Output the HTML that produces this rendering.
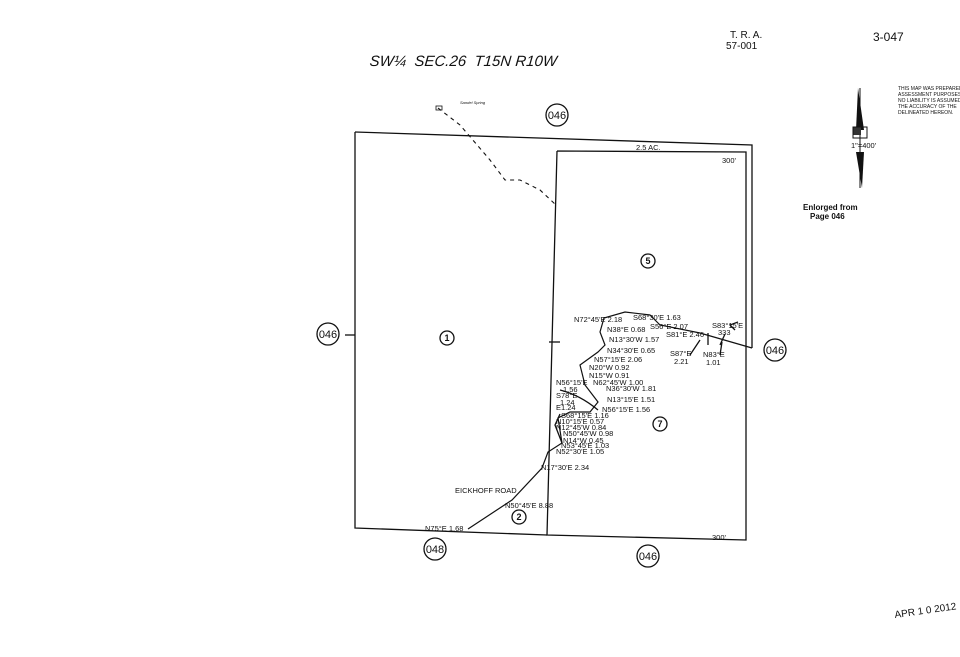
<!DOCTYPE html>
<html><head><meta charset="utf-8"><style>
html,body{margin:0;padding:0;background:#fff;}
svg{display:block;}
text{font-family:"Liberation Sans",sans-serif;fill:#111;}
.s{font-size:7.5px;}
.m{font-size:10px;}
</style></head><body>
<svg width="960" height="657" viewBox="0 0 960 657" xmlns="http://www.w3.org/2000/svg">
<rect width="960" height="657" fill="#fff"/>
<g stroke="#111" fill="none" stroke-width="1.3">
<path d="M355,132 L752,145 L752,348"/>
<path d="M355,132 L355,528 L547,535"/>
<path d="M557,151 L746,152 L746,540 L547,535 L557,151"/>
<line x1="549" y1="342" x2="560" y2="342"/>
<line x1="345" y1="335" x2="355" y2="335"/>
<path d="M468,529 L512,500 L542,468 L548,452 L562,443 L558,418 L570,412 L590,412 L598,402 L585,385 L580,365 L598,352 L605,345 L600,332 L604,318 L625,312 L650,315 L660,325 L700,333 L752,348" stroke-width="1.2"/>
<path d="M562,443 L555,425 L560,414" />
<path d="M708,333 L708,345 M725,334 L720,345 M735,330 L730,325 L738,322"/>
<path d="M690,355 L700,340 M720,355 L722,342"/>
<path d="M560,390 Q580,395 598,410"/>
<path d="M438,108 L460,125 L490,160 L505,180 L520,180 L540,190 L556,205" stroke-dasharray="4,4" stroke-width="1.1"/>
<rect x="436" y="106" width="6" height="4" stroke-width="0.8"/>
<circle cx="557" cy="115" r="11"/>
<circle cx="328" cy="334" r="11"/>
<circle cx="775" cy="350" r="11"/>
<circle cx="435" cy="549" r="11"/>
<circle cx="648" cy="556" r="11"/>
<circle cx="447" cy="338" r="7"/>
<circle cx="648" cy="261" r="7"/>
<circle cx="660" cy="424" r="7"/>
<circle cx="519" cy="517" r="7"/>
</g>
<polygon points="858,88 864,130 856,130" fill="#111"/>
<polygon points="856,152 864,152 862,188" fill="#111"/>
<line x1="860" y1="88" x2="860" y2="188" stroke="#111"/>
<rect x="853" y="127" width="8" height="8" fill="#333"/>
<rect x="853" y="127" width="14" height="11" fill="none" stroke="#111"/>
<text x="851" y="148" class="s">1"=400'</text>
<g text-anchor="middle">
<text x="557" y="119" font-size="11">046</text>
<text x="328" y="338" font-size="11">046</text>
<text x="775" y="354" font-size="11">046</text>
<text x="435" y="553" font-size="11">048</text>
<text x="648" y="560" font-size="11">046</text>
<text x="447" y="341" font-size="9" font-weight="bold">1</text>
<text x="648" y="264" font-size="9" font-weight="bold">5</text>
<text x="660" y="427" font-size="9" font-weight="bold">7</text>
<text x="519" y="520" font-size="9" font-weight="bold">2</text>
</g>
<text x="375" y="66" font-size="15" font-style="italic" transform="skewX(-5)">SW¼ &#160;SEC.26 &#160;T15N R10W</text>
<text x="730" y="38" class="m">T. R. A.</text>
<text x="726" y="49" class="m">57-001</text>
<text x="873" y="41" font-size="12">3-047</text>
<text x="898" y="90" font-size="5">THIS MAP WAS PREPARED</text>
<text x="898" y="96" font-size="5">ASSESSMENT PURPOSES</text>
<text x="898" y="102" font-size="5">NO LIABILITY IS ASSUMED</text>
<text x="898" y="108" font-size="5">THE ACCURACY OF THE</text>
<text x="898" y="114" font-size="5">DELINEATED HEREON.</text>
<text x="803" y="210" font-size="8" font-weight="bold">Enlorged from</text>
<text x="810" y="219" font-size="8" font-weight="bold">Page 046</text>
<text x="636" y="150" class="s">2.5 AC.</text>
<text x="722" y="163" class="s">300'</text>
<text x="712" y="540" class="s">300'</text>
<text x="455" y="493" class="s">EICKHOFF ROAD</text>
<text x="425" y="531" class="s">N75°E 1.68</text>
<text x="505" y="508" class="s">N50°45'E 8.88</text>
<text x="541" y="470" class="s">N17°30'E 2.34</text>
<text x="895" y="618" font-size="10" transform="rotate(-8 895 618)">APR 1 0 2012</text>
<g class="s">
<text x="574" y="322">N72°45'E 2.18</text>
<text x="633" y="320">S68°30'E 1.63</text>
<text x="650" y="329">S56°E 2.07</text>
<text x="666" y="337">S81°E 2.46</text>
<text x="712" y="328">S83°15'E</text>
<text x="718" y="335">333</text>
<text x="670" y="356">S87°E</text>
<text x="674" y="364">2.21</text>
<text x="703" y="357">N83°E</text>
<text x="706" y="365">1.01</text>
<text x="607" y="332">N38°E 0.68</text>
<text x="609" y="342">N13°30'W 1.57</text>
<text x="607" y="353">N34°30'E 0.65</text>
<text x="594" y="362">N57°15'E 2.06</text>
<text x="589" y="370">N20°W 0.92</text>
<text x="589" y="378">N15°W 0.91</text>
<text x="593" y="385">N62°45'W 1.00</text>
<text x="606" y="391">N36°30'W 1.81</text>
<text x="607" y="402">N13°15'E 1.51</text>
<text x="602" y="412">N56°15'E 1.56</text>
<text x="556" y="385">N56°15'E</text>
<text x="563" y="392">1.56</text>
<text x="556" y="398">S78°E</text>
<text x="560" y="405">1.24</text>
<text x="556" y="410">E1.24</text>
<text x="561" y="418">S68°15'E 1.16</text>
<text x="556" y="424">N10°15'E 0.57</text>
<text x="556" y="430">N12°45'W 0.84</text>
<text x="563" y="436">N50°45'W 0.98</text>
<text x="563" y="443">N14°W 0.45</text>
<text x="561" y="448">N53°45'E 1.03</text>
<text x="556" y="454">N52°30'E 1.05</text>
</g>
<text x="460" y="104" font-size="4" font-style="italic">Sandel Spring</text>
</svg>
</body></html>
